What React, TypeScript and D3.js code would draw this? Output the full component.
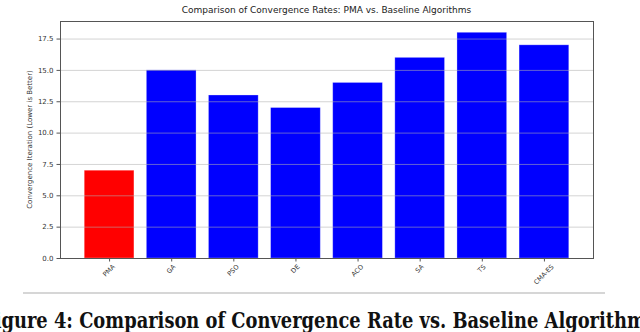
import { useEffect, useRef } from 'react';
import * as d3 from 'd3';

const algorithms = ['PMA', 'GA', 'PSO', 'DE', 'ACO', 'SA', 'TS', 'CMA-ES'];
const iterations = [7, 15, 13, 12, 14, 16, 18, 17];
const barColors = ['#ff0000', '#0000ff', '#0000ff', '#0000ff', '#0000ff', '#0000ff', '#0000ff', '#0000ff'];
const yTicks = [0, 2.5, 5, 7.5, 10, 12.5, 15, 17.5];

const chartTitle = 'Comparison of Convergence Rates: PMA vs. Baseline Algorithms';
const yLabel = 'Convergence Iteration (Lower is Better)';
const caption = 'Figure 4: Comparison of Convergence Rate vs. Baseline Algorithms';

const W = 640;
const H = 332;

const App = () => {
  const svgRef = useRef<SVGSVGElement | null>(null);

  useEffect(() => {
    const root = d3.select(svgRef.current);
    root.selectAll('*').remove();

    const margin = { top: 21, right: 47, bottom: 74, left: 60 };
    const width = W - margin.left - margin.right;
    const height = H - margin.top - margin.bottom;
    const font = 'DejaVu Sans, sans-serif';

    const svg = root.append('g')
      .attr('transform', `translate(${margin.left},${margin.top})`);

    // matplotlib style: bars of width 0.8, 5% margins
    const n = algorithms.length;
    const pad = 0.05 * (n - 1 + 0.8);
    const x = d3.scaleLinear()
      .domain([-0.4 - pad, n - 1 + 0.4 + pad])
      .range([0, width]);

    const y = d3.scaleLinear()
      .domain([0, d3.max(iterations)! * 1.05])
      .range([height, 0]);

    // bars
    svg.selectAll('.bar')
      .data(iterations)
      .enter()
      .append('rect')
      .attr('class', 'bar')
      .attr('x', (d, i) => x(i - 0.4))
      .attr('width', x(0.8) - x(0))
      .attr('y', d => y(d))
      .attr('height', d => height - y(d))
      .style('fill', (d, i) => barColors[i])
      .style('stroke', '#ffffff')
      .style('stroke-opacity', 0.35)
      .style('stroke-width', 0.8);

    // grid lines (on top of bars)
    svg.append('g')
      .selectAll('line')
      .data(yTicks.slice(1))
      .enter()
      .append('line')
      .attr('x1', 0)
      .attr('x2', width)
      .attr('y1', d => y(d) + 0.5)
      .attr('y2', d => y(d) + 0.5)
      .style('stroke', '#b0b0b0')
      .style('stroke-opacity', 0.55)
      .style('stroke-width', 1);

    // frame
    svg.append('rect')
      .attr('x', 0.5)
      .attr('y', 0.5)
      .attr('width', width)
      .attr('height', height)
      .style('fill', 'none')
      .style('stroke', '#555')
      .style('stroke-width', 1);

    // y axis
    const yAxis = svg.append('g')
      .call(d3.axisLeft(y).tickValues(yTicks).tickFormat(d3.format('.1f')).tickSize(3.5).tickPadding(3));
    yAxis.select('.domain').remove();
    yAxis.selectAll('line').style('stroke', '#555');
    yAxis.selectAll('text')
      .style('font-family', font)
      .style('font-size', '7px')
      .style('fill', '#333');

    // x axis ticks
    const xAxis = svg.append('g')
      .attr('transform', `translate(0,${height})`);
    xAxis.selectAll('line')
      .data(algorithms)
      .enter()
      .append('line')
      .attr('x1', (d, i) => x(i) + 0.5)
      .attr('x2', (d, i) => x(i) + 0.5)
      .attr('y1', 0)
      .attr('y2', 3.5)
      .style('stroke', '#555');

    const labels = xAxis.selectAll('text')
      .data(algorithms)
      .enter()
      .append('text')
      .attr('text-anchor', 'middle')
      .attr('dominant-baseline', 'central')
      .style('font-family', font)
      .style('font-size', '6.5px')
      .style('fill', '#333')
      .text(d => d);

    labels.each(function (d, i) {
      const el = this as SVGTextElement;
      const w = el.getComputedTextLength();
      const h = 6.5;
      const cy = 5.5 + (w + h) * Math.SQRT1_2 / 2;
      d3.select(el)
        .attr('x', x(i))
        .attr('y', cy)
        .attr('transform', `rotate(-45,${x(i)},${cy})`);
    });

    // title
    svg.append('text')
      .attr('x', width / 2)
      .attr('y', -8)
      .attr('text-anchor', 'middle')
      .style('font-family', font)
      .style('font-size', '9px')
      .style('fill', '#222')
      .text(chartTitle);

    // y label
    svg.append('text')
      .attr('transform', 'rotate(-90)')
      .attr('x', -height / 2)
      .attr('y', -30)
      .attr('text-anchor', 'middle')
      .attr('dominant-baseline', 'central')
      .style('font-family', font)
      .style('font-size', '7px')
      .style('fill', '#333')
      .text(yLabel);

    // caption rule and text
    root.append('line')
      .attr('x1', 23)
      .attr('x2', 605)
      .attr('y1', 293)
      .attr('y2', 293)
      .style('stroke', '#d6d6d6')
      .style('stroke-width', 2);

    root.append('text')
      .attr('x', -18)
      .attr('y', 328)
      .attr('textLength', 674)
      .attr('lengthAdjust', 'spacingAndGlyphs')
      .style('font-family', 'DejaVu Serif, serif')
      .style('font-weight', 'bold')
      .style('font-size', '22px')
      .style('fill', '#111')
      .text(caption);
  }, []);

  return (
    <div style={{ position: 'fixed', left: 0, top: 0, width: W, height: H, background: '#fff' }}>
      <svg ref={svgRef} width={W} height={H} style={{ display: 'block' }}></svg>
    </div>
  );
};

export default App;
